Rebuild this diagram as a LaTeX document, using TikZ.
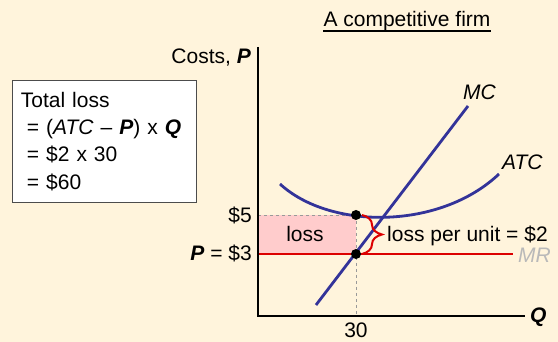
\documentclass[tikz,border=0pt]{standalone}
\usepackage{fontspec}
\setmainfont{Liberation Sans}
\usetikzlibrary{decorations.pathreplacing}
\definecolor{slidebg}{RGB}{255,244,220}
\definecolor{costblue}{RGB}{51,51,153}
\definecolor{mrred}{RGB}{220,0,0}
\definecolor{losspink}{RGB}{255,204,204}
\definecolor{mrgray}{RGB}{185,185,185}

\begin{document}
\begin{tikzpicture}[x=1pt, y=1pt,
  lbl/.style={inner sep=0pt, font=\fontsize{21}{27}\selectfont},
  curve/.style={costblue, line width=2.8pt},
  guide/.style={black!40, dashed, line width=0.8pt},
  dot/.style={circle, fill=black, inner sep=0pt, minimum size=10pt},
  axis/.style={line width=1.5pt},
  lossbox/.style={draw=black!70, fill=white, line width=0.8pt, align=left,
    text width=167pt, inner xsep=8.5pt, minimum height=122pt,
    anchor=north west, font=\fontsize{21}{27.3}\selectfont}
]
\fill[slidebg] (0,0) rectangle (558,342);
\useasboundingbox (0,0) rectangle (558,342);

\coordinate (origin) at (258,26);
\coordinate (ytop) at (258,295);
\coordinate (xend) at (525,26);
\coordinate (atc5) at (356,127);
\coordinate (p3) at (356,88);
\coordinate (mrend) at (513,88);
\coordinate (mcstart) at (316,37);
\coordinate (mcend) at (468,236);
\coordinate (atcstart) at (280,158);
\coordinate (atcend) at (499,168);

\fill[losspink] (origin |- p3) rectangle (atc5);
\draw[guide] (origin |- atc5) -- (atc5);
\draw[guide] (atc5) -- (atc5 |- origin);
\draw[mrred, line width=2.5pt] (origin |- p3) -- (mrend);
\draw[curve] (atcstart) .. controls (330,112) and (440,112) .. (atcend);
\draw[curve] (mcstart) -- (mcend);
\draw[axis] (ytop) -- (origin) -- (xend);
\node[dot] (atcpt) at (atc5) {};
\node[dot] (mrpt) at (p3) {};
\draw[mrred, line width=2pt, decorate, decoration={brace, amplitude=20pt}]
  ([xshift=6pt]atcpt.center) -- ([xshift=6pt]mrpt.center);

\node[lbl, anchor=base] (title) at (407,315) {A competitive firm};
\draw[line width=1.2pt] ([yshift=-4pt]title.base west) -- ([yshift=-4pt]title.base east);
\node[lbl, anchor=base east] (costs) at (251,278) {Costs, \textbf{\textit{P}}};
\node[lbl, anchor=base west] (mclabel) at (463,242) {\textit{MC}};
\node[lbl, anchor=base west] (atclabel) at (502,172) {\textit{ATC}};
\node[lbl, anchor=base west] (qlabel) at (530,19) {\textbf{\textit{Q}}};
\node[lbl, anchor=base west, text=mrgray] (mrlabel) at (518,79.5) {\textit{MR}};
\node[lbl, anchor=base east] (five) at (252,119) {\$5};
\node[lbl, anchor=base east] (three) at (252,81) {\textbf{\textit{P}} = \$3};
\node[lbl, anchor=base] (thirty) at (356,4) {30};
\node[lbl, anchor=base] (losslabel) at (305,100) {loss};
\node[lbl, anchor=base west] (perunit) at (387,100.5) {loss per unit = \$2};
\node[lossbox] (totalloss) at (12,262) {Total loss\\
  \hspace*{6pt}= (\textit{ATC} -- \textbf{\textit{P}}) x \textbf{\textit{Q}}\\
  \hspace*{6pt}= \$2 x 30\\
  \hspace*{6pt}= \$60};
\end{tikzpicture}
\end{document}
